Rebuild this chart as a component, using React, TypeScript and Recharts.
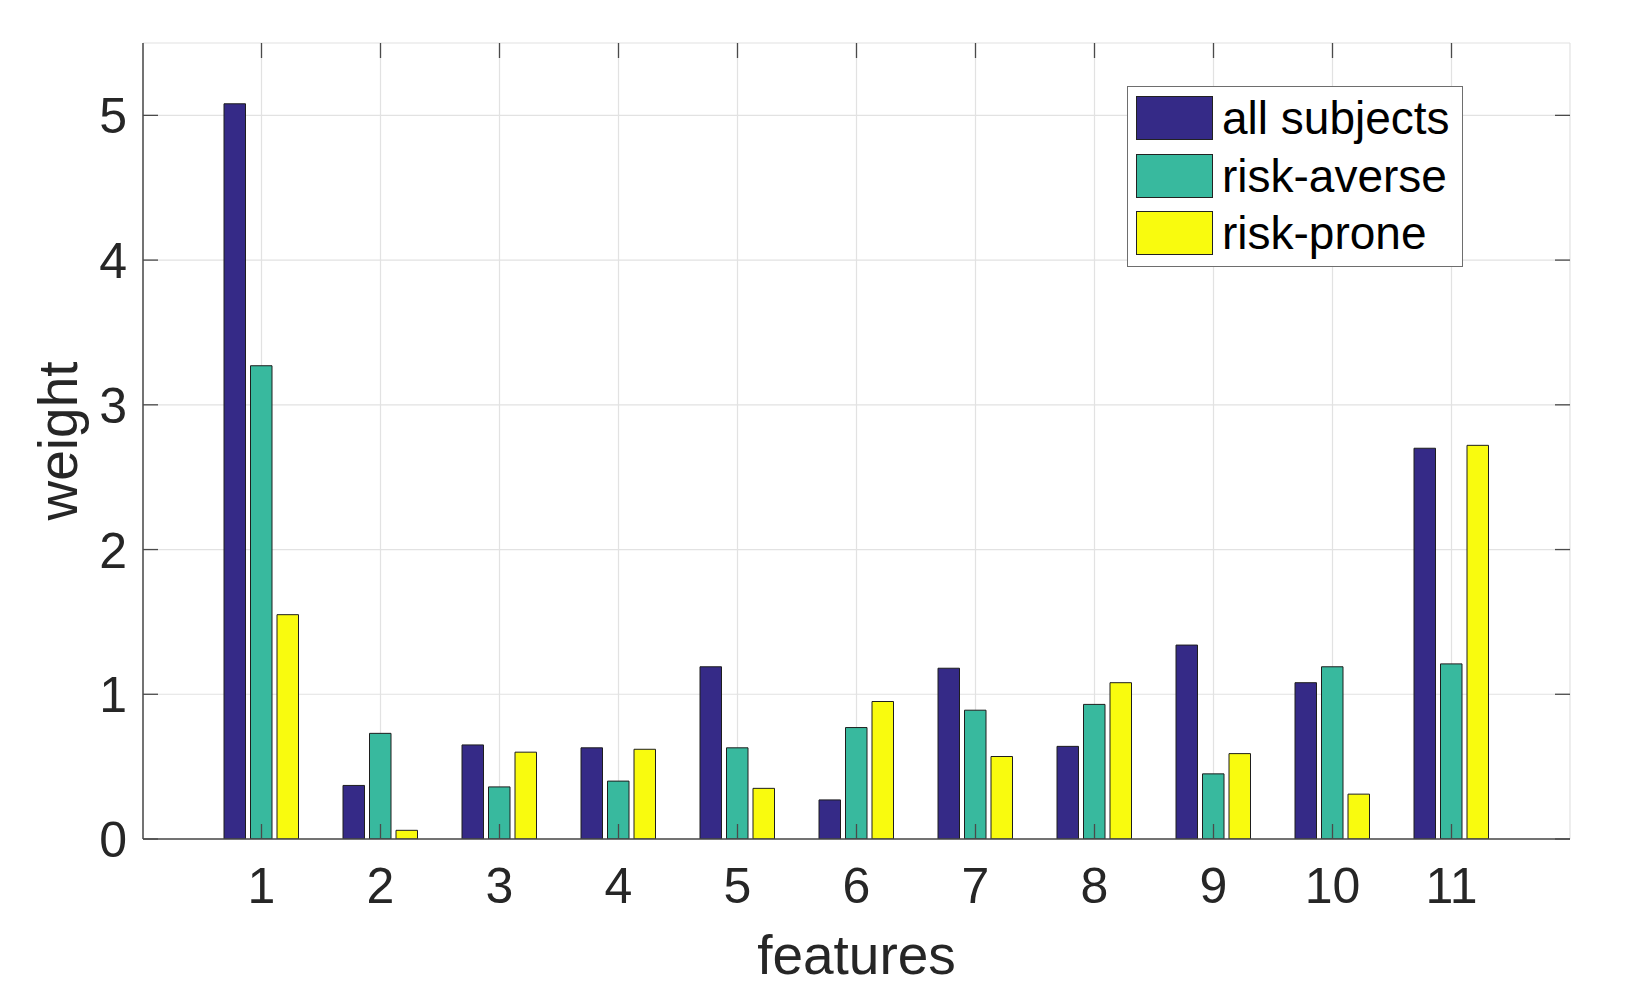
import React from 'react';
import { BarChart, Bar, XAxis, YAxis, CartesianGrid, Legend, Label } from 'recharts';

const categories = ['1', '2', '3', '4', '5', '6', '7', '8', '9', '10', '11'];
const allSubjects = [5.08, 0.37, 0.65, 0.63, 1.19, 0.27, 1.18, 0.64, 1.34, 1.08, 2.7];
const riskAverse = [3.27, 0.73, 0.36, 0.4, 0.63, 0.77, 0.89, 0.93, 0.45, 1.19, 1.21];
const riskProne = [1.55, 0.06, 0.6, 0.62, 0.35, 0.95, 0.57, 1.08, 0.59, 0.31, 2.72];
const yTicks = [0, 1, 2, 3, 4, 5];
const yDomain = [0, 5.5];
const seriesNames = ['all subjects', 'risk-averse', 'risk-prone'];
const seriesColors = ['#352a87', '#38b99e', '#f9fb0e'];

const data = categories.map((c, i) => ({
  feature: c,
  all: allSubjects[i],
  averse: riskAverse[i],
  prone: riskProne[i],
}));

const W = 1628;
const H = 1000;
const PLOT_TOP = 43;
const PLOT_LEFT = 143;
const PLOT_RIGHT = 1570;
const PLOT_BOTTOM = 839;
const TICK_LEN = 15;
const AXIS = '#4a4a4a';
const TEXT = '#262626';
const FONT = '"Liberation Sans", Arial, Helvetica, sans-serif';

const XTick = (props: any) => {
  const { x, y, payload } = props;
  return (
    <g>
      <line x1={x} x2={x} y1={y} y2={y - TICK_LEN} stroke={AXIS} strokeWidth={1.3} />
      <line x1={x} x2={x} y1={PLOT_TOP} y2={PLOT_TOP + TICK_LEN} stroke={AXIS} strokeWidth={1.3} />
      <text x={x} y={y + 64} textAnchor="middle" fontSize={50} fill={TEXT} fontFamily={FONT}>
        {payload.value}
      </text>
    </g>
  );
};

const YTick = (props: any) => {
  const { x, y, payload } = props;
  return (
    <g>
      <line x1={x} x2={x + TICK_LEN} y1={y} y2={y} stroke={AXIS} strokeWidth={1.3} />
      <line x1={PLOT_RIGHT - TICK_LEN} x2={PLOT_RIGHT} y1={y} y2={y} stroke={AXIS} strokeWidth={1.3} />
      <text x={x - 16} y={y + 18} textAnchor="end" fontSize={50} fill={TEXT} fontFamily={FONT}>
        {payload.value}
      </text>
    </g>
  );
};

const LegendBox = (props: any) => {
  const payload = props.payload || [];
  return (
    <div
      style={{
        position: 'relative',
        width: 336,
        height: 181,
        boxSizing: 'border-box',
        border: '1.5px solid #6e6e6e',
        background: '#fff',
        fontFamily: FONT,
      }}
    >
      {payload.map((p: any, i: number) => (
        <div
          key={p.value}
          style={{
            position: 'absolute',
            left: 8,
            top: 9 + i * 57.6,
            height: 44,
            display: 'flex',
            alignItems: 'center',
          }}
        >
          <div
            style={{
              width: 77,
              height: 44,
              boxSizing: 'border-box',
              background: p.color,
              border: '1px solid #222',
            }}
          />
          <span style={{ marginLeft: 9, fontSize: 46, lineHeight: '44px', color: '#000', whiteSpace: 'nowrap' }}>
            {p.value}
          </span>
        </div>
      ))}
    </div>
  );
};

export default function App() {
  return (
    <div style={{ position: 'absolute', left: 0, top: 0, width: W, height: H, background: '#fff' }}>
      <BarChart
        width={W}
        height={H}
        data={data}
        margin={{ top: PLOT_TOP, right: W - PLOT_RIGHT, left: 0, bottom: 0 }}
        barSize={21.5}
        barGap={5}
      >
        <CartesianGrid stroke="#e2e2e2" strokeWidth={1.2} />
        <XAxis
          dataKey="feature"
          type="category"
          interval={0}
          height={H - PLOT_BOTTOM}
          padding={{ left: 59, right: 59 }}
          tickSize={0}
          tickMargin={0}
          tickLine={false}
          axisLine={{ stroke: AXIS, strokeWidth: 1.5 }}
          tick={<XTick />}
        >
          <Label
            value="features"
            position="insideBottom"
            offset={26}
            style={{ fontSize: 55, fill: TEXT, fontFamily: FONT }}
          />
        </XAxis>
        <XAxis
          xAxisId="top"
          dataKey="feature"
          orientation="top"
          height={0}
          padding={{ left: 59, right: 59 }}
          tick={false}
          tickLine={false}
          axisLine={{ stroke: AXIS, strokeWidth: 1.5 }}
        />
        <YAxis
          type="number"
          domain={yDomain}
          ticks={yTicks}
          interval={0}
          width={PLOT_LEFT}
          tickSize={0}
          tickMargin={0}
          tickLine={false}
          axisLine={{ stroke: AXIS, strokeWidth: 1.5 }}
          tick={<YTick />}
          allowDataOverflow
        >
          <Label
            value="weight"
            angle={-90}
            position="center"
            dx={-14}
            style={{ fontSize: 55, fill: TEXT, fontFamily: FONT, textAnchor: 'middle' }}
          />
        </YAxis>
        <YAxis
          yAxisId="right"
          orientation="right"
          type="number"
          domain={yDomain}
          ticks={yTicks}
          width={0}
          tick={false}
          tickLine={false}
          axisLine={{ stroke: AXIS, strokeWidth: 1.5 }}
          allowDataOverflow
        />
        <Legend
          layout="vertical"
          align="center"
          verticalAlign="middle"
          content={<LegendBox />}
          wrapperStyle={{ position: 'absolute', left: 1127, top: 86, width: 336, height: 181 }}
        />
        <Bar dataKey="all" name={seriesNames[0]} fill={seriesColors[0]} stroke="#1e1e1e" strokeWidth={1} isAnimationActive={false} />
        <Bar dataKey="averse" name={seriesNames[1]} fill={seriesColors[1]} stroke="#1e1e1e" strokeWidth={1} isAnimationActive={false} />
        <Bar dataKey="prone" name={seriesNames[2]} fill={seriesColors[2]} stroke="#1e1e1e" strokeWidth={1} isAnimationActive={false} />
      </BarChart>
    </div>
  );
}
